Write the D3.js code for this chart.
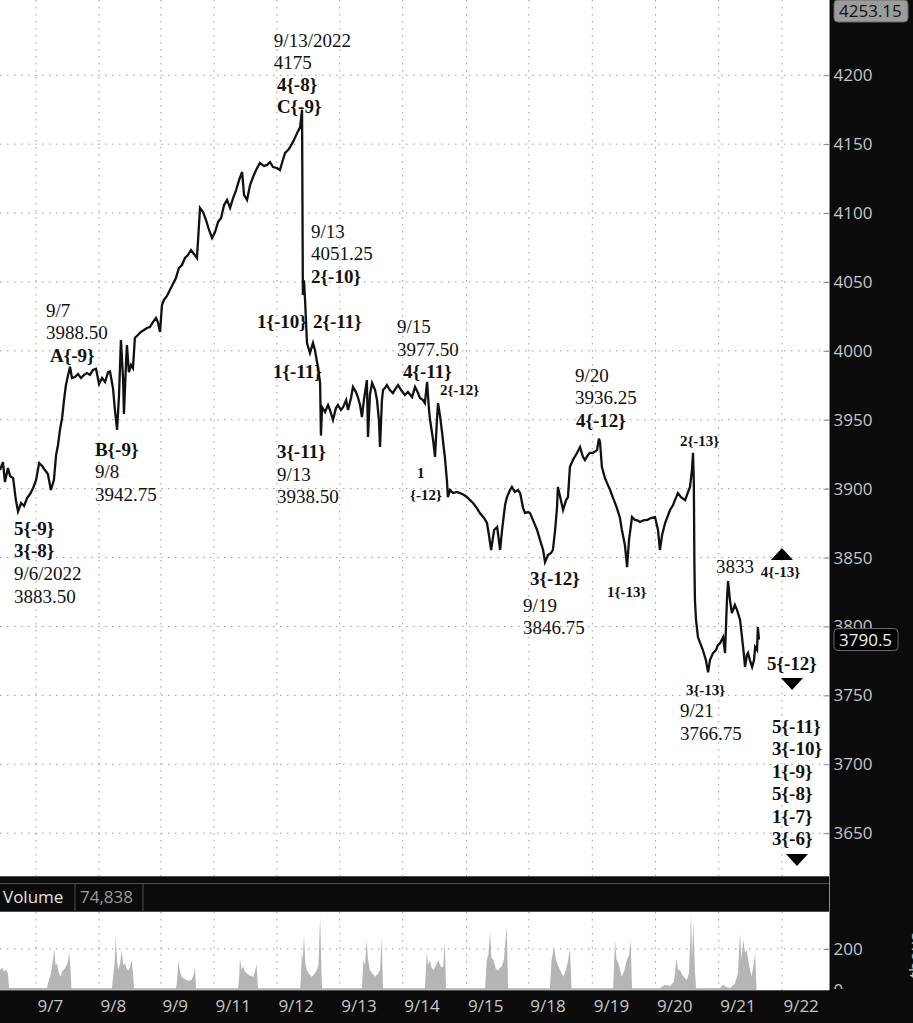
<!DOCTYPE html>
<html>
<head>
<meta charset="utf-8">
<title>ES futures - wave count</title>
<script src="https://d3js.org/d3.v7.min.js"></script>
<style>
    body { margin:0; background:#0b0b0b; }
    svg { display:block; }
    .grid line { stroke:#9a9a9a; stroke-width:1; stroke-dasharray:1.5,5.5; }
    .axis text { font-family:'Open Sans', sans-serif; font-size:17px; fill:#c6c6c6; }
    .axis line { stroke:#8a8a8a; }
    .note { font-family:'Liberation Serif', 'Times New Roman', serif; font-size:19px; fill:#111; }
    .wave { font-family:'Liberation Serif', 'Times New Roman', serif; font-size:19px; font-weight:bold; fill:#111; }
    .subwave { font-family:'Liberation Serif', 'Times New Roman', serif; font-size:15px; font-weight:bold; fill:#111; }
</style>
</head>
<body>
<div id="chart"></div>
<script>

// ---------- data ----------
var priceTicks = [3650, 3700, 3750, 3800, 3850, 3900, 3950, 4000, 4050, 4100, 4150, 4200];
var volumeTicks = [0, 200];

// trading hours since the left edge of the chart where each day starts
var dayHours = [13.2, 36.2, 58.8, 78.2, 101.2, 124.2, 147.2, 170.5, 193.3, 216.5, 239.6, 262.7, 285.8];
var dayLabels = ["9/7", "9/8", "9/9", "9/11", "9/12", "9/13", "9/14", "9/15", "9/18", "9/19", "9/20", "9/21", "9/22"];

var topPrice = 4253.15;
var lastPrice = 3790.5;
var lastVolume = "74,838";

// [trading hour, price]
var priceSeries = [
    [0, 3913.5], [1.1, 3919.3], [1.8, 3904.8], [2.9, 3915.0], [3.7, 3909.2], [4.8, 3907.7], [5.8, 3891.7],
    [6.6, 3883.5], [7.7, 3889.6], [8.8, 3887.4], [9.9, 3893.2], [11.0, 3896.1], [12.1, 3900.5], [13.2, 3906.3],
    [14.3, 3918.6], [15.4, 3916.4], [16.4, 3913.5], [17.5, 3910.6], [18.6, 3899.0], [19.7, 3906.3], [20.5, 3924.4],
    [21.2, 3931.7], [21.9, 3942.5], [22.7, 3951.3], [23.4, 3964.3], [24.1, 3975.2], [24.9, 3982.5], [25.6, 3988.5],
    [26.3, 3980.3], [27.4, 3981.0], [28.5, 3983.2], [29.6, 3980.3], [30.7, 3982.5], [31.8, 3983.9], [32.9, 3982.5],
    [34.0, 3986.1], [35.1, 3987.0], [36.2, 3975.9], [37.3, 3980.3], [38.4, 3977.4], [39.5, 3984.6], [40.2, 3985.0],
    [41.3, 3973.0], [42.0, 3957.1], [42.8, 3942.75], [43.5, 3967.9], [44.2, 4007.9], [45.0, 3978.8], [45.3, 3954.2],
    [46.1, 3993.3], [46.4, 4004.2], [47.1, 3984.6], [47.9, 3989.7], [48.6, 3987.5], [49.3, 4009.3], [50.4, 4011.5],
    [51.5, 4013.7], [52.6, 4015.1], [53.7, 4016.6], [54.8, 4017.3], [55.9, 4020.9], [57.0, 4023.8], [57.7, 4020.9],
    [58.5, 4013.7], [59.2, 4033.3], [59.9, 4036.9], [61.0, 4039.8], [62.1, 4044.1], [63.2, 4048.5], [64.3, 4052.9],
    [65.4, 4060.1], [66.5, 4062.3], [67.6, 4067.4], [68.7, 4069.5], [69.8, 4073.2], [70.9, 4070.3], [72.0, 4067.4],
    [73.1, 4103.7], [74.2, 4100.8], [75.3, 4094.9], [76.4, 4087.7], [77.5, 4081.9], [78.6, 4086.2], [79.7, 4093.5],
    [80.8, 4096.4], [81.9, 4105.8], [83.0, 4109.5], [84.1, 4103.7], [85.2, 4110.9], [86.3, 4116.7], [87.4, 4124.0],
    [88.5, 4129.8], [89.2, 4113.1], [90.3, 4109.5], [91.4, 4120.3], [92.5, 4126.2], [93.6, 4131.2], [95.0, 4136.3],
    [96.5, 4134.1], [97.6, 4134.9], [98.7, 4137.0], [99.8, 4133.4], [101.2, 4132.7], [102.3, 4131.2], [103.4, 4138.5],
    [104.2, 4143.6], [105.3, 4145.7], [106.0, 4147.9], [107.1, 4151.6], [108.6, 4158.1], [109.7, 4162.4], [110.4, 4175],
    [110.7, 4040.5], [111.1, 4051.25], [111.5, 4036.9], [112.2, 4005.7], [113.3, 3998.4], [114.4, 4005.7], [115.1, 4000.6],
    [116.2, 3988.3], [117.0, 3976.7], [117.3, 3938.5], [117.7, 3959.2], [118.8, 3955.6], [119.9, 3960.7], [120.6, 3957.1],
    [121.7, 3949.8], [122.8, 3958.5], [123.5, 3960.7], [124.6, 3957.1], [125.4, 3959.2], [126.5, 3964.3], [127.2, 3957.1],
    [128.3, 3965.8], [129.0, 3973.8], [130.1, 3970.1], [130.8, 3966.5], [131.6, 3960.7], [132.3, 3952.0], [133.0, 3964.3],
    [134.1, 3978.8], [134.5, 3937.5], [135.2, 3967.9], [136.0, 3976.7], [137.1, 3971.6], [137.8, 3964.3], [138.5, 3949.8],
    [138.9, 3930.2], [139.6, 3964.3], [140.0, 3971.6], [140.7, 3973.0], [141.4, 3975.2], [142.5, 3971.6], [143.6, 3969.4],
    [144.7, 3973.0], [145.5, 3975.2], [146.6, 3971.6], [148.0, 3967.9], [149.1, 3970.1], [150.6, 3966.5], [151.7, 3973.8],
    [152.8, 3969.4], [153.5, 3965.8], [154.6, 3964.3], [155.3, 3962.1], [156.1, 3977.5], [156.8, 3957.1], [157.2, 3949.8],
    [158.3, 3935.3], [159.0, 3923.0], [159.7, 3949.8], [160.1, 3962.1], [160.8, 3953.4], [161.6, 3940.4], [162.3, 3928.0],
    [162.6, 3923.0], [163.4, 3904.8], [163.7, 3893.9], [164.5, 3899.0], [165.6, 3896.8], [167.0, 3897.6], [168.1, 3896.8],
    [169.6, 3895.4], [170.7, 3893.9], [171.8, 3891.7], [172.9, 3889.6], [174.3, 3885.9], [175.4, 3882.3], [176.9, 3878.7],
    [178.0, 3875.1], [178.7, 3866.4], [179.5, 3855.5], [180.6, 3870.0], [181.7, 3872.2], [182.8, 3855.5], [183.5, 3870.0],
    [184.6, 3888.1], [185.3, 3893.9], [186.4, 3899.0], [187.1, 3901.2], [188.2, 3897.6], [189.3, 3899.0], [190.1, 3896.8],
    [191.2, 3885.9], [191.9, 3882.3], [193.0, 3883.0], [193.7, 3882.3], [194.8, 3877.2], [196.3, 3870.0], [197.4, 3862.7],
    [198.5, 3855.5], [199.2, 3846.75], [200.3, 3851.8], [201.4, 3853.3], [202.1, 3855.5], [202.9, 3870.0], [203.6, 3886.7],
    [203.9, 3901.2], [205.0, 3891.7], [205.8, 3884.5], [206.9, 3891.7], [207.6, 3893.9], [208.3, 3915.7], [209.4, 3920.8],
    [210.9, 3925.9], [212.0, 3930.2], [213.1, 3923.0], [213.8, 3920.8], [214.9, 3924.4], [215.6, 3925.9], [216.7, 3925.9],
    [218.2, 3928.0], [218.9, 3936.25], [219.3, 3933.8], [220.0, 3915.7], [221.1, 3907.7], [222.2, 3902.6], [223.0, 3899.0],
    [224.1, 3893.2], [225.5, 3885.9], [226.6, 3878.7], [227.3, 3870.0], [228.4, 3859.1], [229.2, 3843.1], [229.9, 3862.7],
    [231.0, 3879.4], [232.1, 3877.2], [232.8, 3877.2], [233.9, 3875.8], [235.4, 3877.2], [236.5, 3877.2], [237.9, 3878.7],
    [239.4, 3879.4], [240.5, 3870.0], [241.2, 3855.5], [242.0, 3866.4], [243.1, 3875.1], [244.2, 3880.9], [244.9, 3884.5],
    [246.0, 3888.1], [246.7, 3891.7], [247.8, 3896.8], [248.9, 3893.9], [250.4, 3891.7], [251.5, 3897.6], [252.2, 3901.2],
    [252.9, 3913.5], [253.3, 3926.0], [253.6, 3904.1], [253.8, 3846.0], [254.0, 3819.2], [254.4, 3804.7], [255.1, 3792.3],
    [256.2, 3786.5], [256.9, 3782.9], [258.0, 3775.6], [258.8, 3766.75], [259.5, 3775.6], [260.6, 3780.7], [261.7, 3782.9],
    [262.4, 3786.5], [263.2, 3788.0], [264.3, 3792.3], [265.0, 3780.7], [265.7, 3819.2], [266.1, 3833.0], [266.8, 3819.2],
    [267.5, 3809.7], [268.6, 3815.6], [269.4, 3811.9], [270.5, 3804.7], [271.2, 3792.3], [271.9, 3779.3], [272.3, 3770.6],
    [273.0, 3779.3], [273.4, 3780.7], [274.1, 3775.6], [274.9, 3770.6], [275.6, 3775.6], [276.0, 3785.1], [276.7, 3782.9],
    [277.0, 3799.6], [277.4, 3790.5]
];

// [trading hour, volume in thousands]
var volumeSeries = [
    [0, 95], [0.7, 110], [1.5, 90], [2.2, 100], [2.9, 80], [3.3, 10], [17.2, 10],
    [17.5, 30], [18.6, 80], [19.4, 150], [19.8, 198], [20.3, 120], [20.8, 130], [21.6, 80], [22.1, 65], [22.7, 90],
    [23.4, 100], [24.1, 114], [24.9, 140], [25.2, 187], [25.8, 100], [26.1, 8],
    [40.9, 8], [41.3, 60], [42.0, 150], [42.3, 260], [42.8, 140], [43.2, 100], [43.9, 130], [44.5, 195], [45.0, 120],
    [45.7, 130], [46.4, 100], [46.9, 95], [47.5, 110], [48.1, 146], [48.6, 80], [49.0, 8],
    [64.3, 8], [64.7, 40], [65.2, 143], [65.8, 90], [66.4, 65], [67.3, 55], [68.2, 49], [69.1, 45], [70.1, 50],
    [70.9, 80], [71.3, 114], [71.6, 8],
    [87.0, 8], [87.4, 60], [87.7, 154], [88.3, 100], [88.9, 114], [89.5, 90], [90.2, 81], [91.4, 70], [92.6, 65],
    [93.2, 90], [93.8, 127], [94.3, 8],
    [109.7, 8], [110.0, 60], [110.3, 179], [110.7, 150], [111.1, 268], [111.6, 130], [112.1, 98], [112.9, 80],
    [113.9, 65], [114.8, 75], [115.8, 98], [116.4, 120], [117.0, 358], [117.5, 90], [117.7, 8],
    [132.3, 8], [132.8, 146], [133.4, 120], [134.0, 244], [134.5, 150], [135.2, 98], [136.1, 80], [137.1, 65],
    [138.2, 80], [138.9, 98], [139.5, 252], [140.0, 8],
    [155.3, 8], [156.0, 179], [156.6, 120], [157.2, 146], [157.7, 110], [158.4, 98], [159.4, 120], [160.2, 146],
    [161.2, 110], [162.0, 114], [162.6, 236], [163.0, 8],
    [177.3, 8], [177.9, 146], [178.5, 170], [179.1, 285], [179.6, 160], [180.3, 146], [181.3, 100], [182.1, 98],
    [182.8, 110], [183.4, 114], [184.2, 150], [185.2, 309], [185.7, 8],
    [201.0, 8], [201.6, 146], [202.5, 211], [203.2, 150], [203.9, 120], [204.7, 98], [205.9, 65], [206.9, 100],
    [207.7, 146], [208.3, 205], [208.9, 8],
    [224.1, 8], [224.8, 244], [225.3, 150], [226.0, 130], [226.6, 100], [227.2, 65], [228.1, 90], [229.1, 146],
    [229.9, 170], [230.5, 244], [231.0, 8],
    [241.2, 8], [243.1, 25], [244.9, 20], [246.3, 40], [247.3, 154], [247.8, 100], [248.5, 98], [249.6, 70],
    [251.0, 49], [251.8, 80], [252.6, 366], [252.9, 150], [253.4, 333], [254.0, 98], [254.4, 8],
    [263.2, 10], [264.3, 25], [265.4, 15], [266.8, 10], [268.6, 30], [269.7, 80], [270.5, 276], [271.0, 150],
    [271.7, 244], [272.3, 180], [272.9, 195], [273.8, 120], [274.7, 65], [275.4, 120], [276.0, 179], [276.5, 8]
];

// annotations: [hour, price of first baseline, lines]
var dateNotes = [
    [16.8, 4024.6, ["9/7", "3988.50"]],
    [34.7, 3907.4, ["9/8", "3942.75"]],
    [5.1, 3833.7, ["9/6/2022", "3883.50"]],
    [100.1, 4220.5, ["9/13/2022", "4175"]],
    [113.7, 4081.9, ["9/13", "4051.25"]],
    [101.2, 3905.9, ["9/13", "3938.50"]],
    [145.1, 4012.9, ["9/15", "3977.50"]],
    [191.2, 3810.5, ["9/19", "3846.75"]],
    [210.2, 3977.4, ["9/20", "3936.25"]],
    [261.7, 3838.8, ["3833"]],
    [248.5, 3734.3, ["9/21", "3766.75"]]
];
var waveNotes = [
    [18.3, 3991.9, ["A{-9}"]],
    [34.7, 3923.7, ["B{-9}"]],
    [5.1, 3866.4, ["5{-9}", "3{-8}"]],
    [101.2, 4188.6, ["4{-8}", "C{-9}"]],
    [113.7, 4049.2, ["2{-10}"]],
    [93.9, 4016.6, ["1{-10}"]],
    [114.4, 4016.6, ["2{-11}"]],
    [99.8, 3980.3, ["1{-11}"]],
    [101.2, 3922.2, ["3{-11}"]],
    [147.3, 3980.3, ["4{-11}"]],
    [193.7, 3830.1, ["3{-12}"]],
    [210.5, 3944.7, ["4{-12}"]],
    [280.3, 3768.4, ["5{-12}"]],
    [282.2, 3722.7, ["5{-11}", "3{-10}", "1{-9}", "5{-8}", "1{-7}", "3{-6}"]]
];
var subWaveNotes = [
    [160.8, 3967.9, ["2{-12}"]],
    [152.4, 3907.7, ["1"]],
    [149.9, 3891.7, ["{-12}"]],
    [221.9, 3821.4, ["1{-13}"]],
    [248.5, 3930.9, ["2{-13}"]],
    [278.1, 3835.9, ["4{-13}"]],
    [250.7, 3750.2, ["3{-13}"]]
];
// [hour, price, direction]
var arrowMarks = [
    [285.8, 3852.6, "up"],
    [289.5, 3758.2, "down"],
    [291.3, 3630.5, "down"]
];

// ---------- layout ----------
var W = 913, H = 1023;
var plotRight = 829;
var priceBottom = 877;
var volTop = 912, volBottom = 990;

var x = d3.scaleLinear().domain([0, 303]).range([0, plotRight]);
var y = d3.scaleLinear().domain([3618.2, 4254.6]).range([priceBottom, 0]);
var yVol = d3.scaleLinear().domain([0, 380]).range([volBottom, volTop]);

var svg = d3.select("#chart").append("svg")
    .attr("width", W)
    .attr("height", H);

svg.append("rect").attr("width", W).attr("height", H).attr("fill", "#0b0b0b");

var defs = svg.append("defs");
defs.append("clipPath").attr("id", "clipPrice")
    .append("rect").attr("x", 0).attr("y", 0).attr("width", plotRight).attr("height", priceBottom);
defs.append("clipPath").attr("id", "clipVol")
    .append("rect").attr("x", 0).attr("y", volTop).attr("width", plotRight).attr("height", volBottom - volTop);
defs.append("clipPath").attr("id", "clipVolAxis")
    .append("rect").attr("x", plotRight - 10).attr("y", volTop).attr("width", W - plotRight + 10).attr("height", volBottom - volTop - 1);

// panels
svg.append("rect").attr("x", 0).attr("y", 0).attr("width", plotRight).attr("height", priceBottom).attr("fill", "#fff");
svg.append("rect").attr("x", 0).attr("y", volTop).attr("width", plotRight).attr("height", volBottom - volTop).attr("fill", "#fff");

// price grid
var grid = svg.append("g").attr("class", "grid");
grid.selectAll("line.h").data(priceTicks).enter().append("line")
    .attr("class", "h")
    .attr("x1", 0).attr("x2", plotRight)
    .attr("y1", function(d) { return y(d); })
    .attr("y2", function(d) { return y(d); });
grid.selectAll("line.v").data(dayHours).enter().append("line")
    .attr("class", "v")
    .attr("x1", function(d) { return x(d); }).attr("x2", function(d) { return x(d); })
    .attr("y1", 0).attr("y2", priceBottom);

// volume grid
var vgrid = svg.append("g").attr("class", "grid");
vgrid.selectAll("line.h").data([200]).enter().append("line")
    .attr("x1", 0).attr("x2", plotRight)
    .attr("y1", function(d) { return yVol(d); })
    .attr("y2", function(d) { return yVol(d); });
vgrid.selectAll("line.v").data(dayHours).enter().append("line")
    .attr("x1", function(d) { return x(d); }).attr("x2", function(d) { return x(d); })
    .attr("y1", volTop).attr("y2", volBottom);

// volume bars
var volArea = d3.area()
    .x(function(d) { return x(d[0]); })
    .y0(volBottom)
    .y1(function(d) { return yVol(d[1]); });
svg.append("path")
    .datum(volumeSeries)
    .attr("clip-path", "url(#clipVol)")
    .attr("fill", "#b5b5b5")
    .attr("d", volArea);

// price line
var line = d3.line()
    .x(function(d) { return x(d[0]); })
    .y(function(d) { return y(d[1]); });
svg.append("path")
    .datum(priceSeries)
    .attr("clip-path", "url(#clipPrice)")
    .attr("fill", "none")
    .attr("stroke", "#111")
    .attr("stroke-width", 2.3)
    .attr("stroke-linejoin", "miter")
    .attr("d", line);

// annotations
function drawNotes(list, cls, lineH) {
    list.forEach(function(n) {
        var t = svg.append("text")
            .attr("class", cls)
            .attr("x", x(n[0]))
            .attr("y", y(n[1]));
        n[2].forEach(function(s, i) {
            t.append("tspan")
                .attr("x", x(n[0]))
                .attr("dy", i ? lineH : 0)
                .text(s);
        });
    });
}
drawNotes(dateNotes, "note", 22.5);
drawNotes(waveNotes, "wave", 22.5);
drawNotes(subWaveNotes, "subwave", 18);

svg.selectAll("path.arrow").data(arrowMarks).enter().append("path")
    .attr("class", "arrow")
    .attr("fill", "#000")
    .attr("d", function(d) {
        var cx = x(d[0]), cy = y(d[1]);
        if (d[2] == "up") {
            return "M" + (cx - 11) + "," + (cy + 6) + "L" + (cx + 11) + "," + (cy + 6) + "L" + cx + "," + (cy - 6) + "Z";
        }
        return "M" + (cx - 11) + "," + (cy - 6) + "L" + (cx + 11) + "," + (cy - 6) + "L" + cx + "," + (cy + 6) + "Z";
    });

// volume header bar
svg.append("line").attr("x1", 0).attr("x2", plotRight).attr("y1", priceBottom - 0.5).attr("y2", priceBottom - 0.5)
    .attr("stroke", "#555");
svg.append("rect").attr("x", -1).attr("y", 883.5).attr("width", plotRight + 1.5).attr("height", 28)
    .attr("fill", "#0b0b0b").attr("stroke", "#4c4c4c");
svg.append("text").attr("x", 3).attr("y", 903)
    .attr("font-family", "'Open Sans', sans-serif").attr("font-size", 17).attr("fill", "#e2e2e2")
    .text("Volume");
svg.append("line").attr("x1", 75).attr("x2", 75).attr("y1", 884).attr("y2", 911).attr("stroke", "#4c4c4c");
svg.append("text").attr("x", 80).attr("y", 903)
    .attr("font-family", "'Open Sans', sans-serif").attr("font-size", 17).attr("fill", "#9a9a9a")
    .text(lastVolume);
svg.append("line").attr("x1", 143).attr("x2", 143).attr("y1", 884).attr("y2", 911).attr("stroke", "#4c4c4c");
svg.append("line").attr("x1", 0).attr("x2", plotRight).attr("y1", volBottom + 0.5).attr("y2", volBottom + 0.5)
    .attr("stroke", "#555");

// right price axis
svg.append("line").attr("x1", plotRight + 0.5).attr("x2", plotRight + 0.5).attr("y1", 0).attr("y2", volBottom)
    .attr("stroke", "#8a8a8a");
var yAxis = d3.axisRight(y).tickValues(priceTicks).tickSizeInner(-6).tickSizeOuter(0).tickPadding(4)
    .tickFormat(d3.format("d"));
svg.append("g")
    .attr("class", "axis")
    .attr("transform", "translate(" + (plotRight + 0.5) + ",0)")
    .call(yAxis)
    .call(function(g) { g.select(".domain").remove(); })
    .call(function(g) { g.selectAll("text").attr("font-family", null).attr("font-size", null); });

var volAxis = d3.axisRight(yVol).tickValues(volumeTicks).tickSizeInner(-6).tickSizeOuter(0).tickPadding(4);
svg.append("g")
    .attr("clip-path", "url(#clipVolAxis)")
    .append("g")
    .attr("class", "axis")
    .attr("transform", "translate(" + (plotRight + 0.5) + ",0)")
    .call(volAxis)
    .call(function(g) { g.select(".domain").remove(); });
svg.append("text")
    .attr("transform", "translate(921," + 978 + ") rotate(-90)")
    .attr("font-family", "'Open Sans', sans-serif").attr("font-size", 17).attr("fill", "#c6c6c6")
    .text("thous");

// price boxes on the axis
function priceBox(yy, fill, stroke, color, label) {
    var g = svg.append("g").attr("transform", "translate(834," + yy + ")");
    g.append("rect").attr("x", 0).attr("y", -11).attr("width", label.length * 10 + 4).attr("height", 22)
        .attr("rx", 4).attr("fill", fill).attr("stroke", stroke);
    g.append("text").attr("x", 5).attr("y", 0).attr("dy", "0.36em")
        .attr("font-family", "'Open Sans', sans-serif").attr("font-size", 17).attr("fill", color)
        .text(label);
}
priceBox(Math.max(y(topPrice) + 8, 11), "#9c9c9c", "#6a6a6a", "#111", d3.format(".2f")(topPrice));
priceBox(y(lastPrice), "#000", "#6a6a6a", "#f2f2f2", String(lastPrice));

// date axis
var xAxis = d3.axisBottom(x).tickValues(dayHours).tickSize(0).tickPadding(10)
    .tickFormat(function(d, i) { return dayLabels[i]; });
svg.append("g")
    .attr("class", "axis")
    .attr("transform", "translate(0," + volBottom + ")")
    .call(xAxis)
    .call(function(g) { g.select(".domain").remove(); })
    .call(function(g) { g.selectAll("text").attr("text-anchor", "start").attr("dx", 1); });

</script>
</body>
</html>
